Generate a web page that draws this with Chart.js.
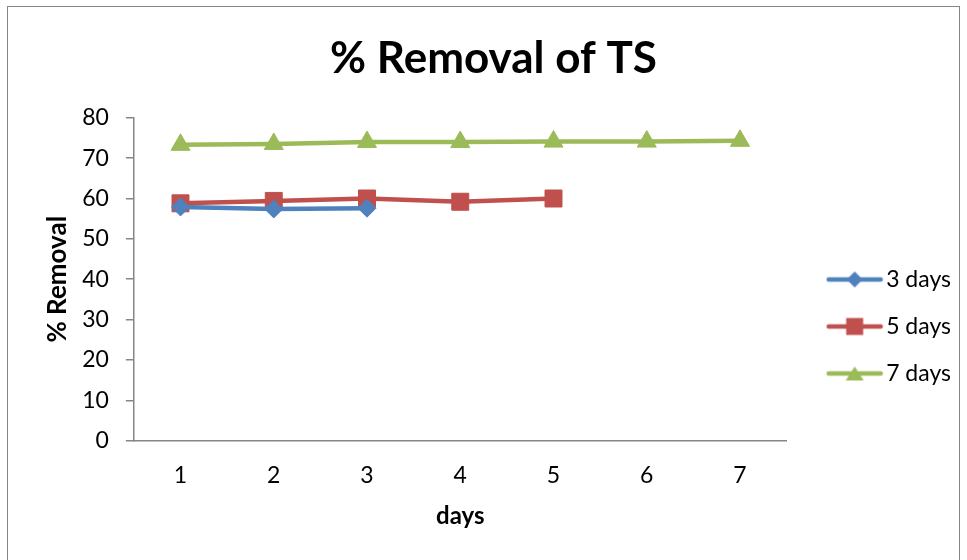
<!DOCTYPE html>
<html><head><meta charset="utf-8">
<script src="https://cdn.jsdelivr.net/npm/chart.js@4"></script>
<style>
html,body{margin:0;padding:0;background:#fff;}
#frame{position:absolute;left:7px;top:6px;width:953px;height:600px;border:1px solid #868686;box-sizing:border-box;}
#wrap{position:absolute;left:0;top:0;width:967px;height:560px;}
</style></head><body>
<div id="frame"></div>
<div id="wrap"><canvas id="c" width="967" height="560"></canvas></div>
<script>
const categories = ['1','2','3','4','5','6','7'];
const seriesNames = ['3 days','5 days','7 days'];
const days3 = [57.9, 57.4, 57.6, null, null, null, null];
const days5 = [58.8, 59.4, 60.0, 59.2, 60.0, null, null];
const days7 = [73.3, 73.5, 74.0, 74.0, 74.1, 74.1, 74.3];
const yTicks = [0,10,20,30,40,50,60,70,80];

const colors = ['#4F81BD','#C0504D','#9BBB59'];
const shapes = ['rectRot','rect','triangle'];
const radii = [9, 12, 11];

const FONT = 'Lato, "Open Sans", sans-serif';

function legendIcon(color, shape){
  const cv = document.createElement('canvas');
  cv.width = 58; cv.height = 24;
  const g = cv.getContext('2d');
  g.strokeStyle = color; g.lineWidth = 4.5; g.lineCap='round';
  g.beginPath(); g.moveTo(3,12); g.lineTo(55,12); g.stroke();
  g.fillStyle = color;
  g.beginPath();
  if(shape==='rectRot'){ g.moveTo(29,4); g.lineTo(37,12); g.lineTo(29,20); g.lineTo(21,12); g.closePath(); }
  else if(shape==='rect'){ g.rect(20.5,3.5,17,17); }
  else { g.moveTo(29,5); g.lineTo(38,19); g.lineTo(20,19); g.closePath(); }
  g.fill();
  return cv;
}
const icons = colors.map((c,i)=>legendIcon(c, shapes[i]));

const boxShift = {
  id:'boxShift',
  afterLayout(chart){
    const l = chart.legend;
    if(l){ const dx = 24, dy = 50; l.left += dx; l.right += dx; l.top += dy; l.bottom += dy; }
    const t = chart.titleBlock;
    if(t){ const tx = 8; t.left += tx; t.right += tx; }
  }
};

const data = [days3, days5, days7];
new Chart(document.getElementById('c'), {
  type:'line',
  data:{
    labels: categories,
    datasets: seriesNames.map((n,i)=>({
      label:n, data:data[i],
      borderColor:colors[i], backgroundColor:colors[i],
      borderWidth:4.5, pointStyle:shapes[i], pointRadius:radii[i], pointHoverRadius:radii[i],
      pointBackgroundColor:colors[i], pointBorderColor:colors[i], pointBorderWidth:1,
      tension:0, spanGaps:false
    }))
  },
  plugins:[boxShift],
  options:{
    responsive:false, animation:false, devicePixelRatio:1,
    layout:{padding:{left:34, right:30, top:22, bottom:29}},
    plugins:{
      title:{display:true, text:'% Removal of TS', color:'#000',
        font:{family:FONT, size:44, weight:'bold'}, padding:{top:10,bottom:33}},
      legend:{position:'right', align:'center',
        labels:{usePointStyle:true, pointStyleWidth:40, boxHeight:23, padding:24, color:'#000',
          font:{family:FONT, size:23},
          generateLabels:(chart)=>chart.data.datasets.map((d,i)=>({
            text:d.label, pointStyle:icons[i], fillStyle:colors[i], strokeStyle:colors[i],
            lineWidth:0, datasetIndex:i, hidden:false, fontColor:'#000'
          }))
        }},
      tooltip:{enabled:false}
    },
    scales:{
      x:{offset:true,
        grid:{display:false},
        border:{display:true, color:'#868686', width:1.5},
        ticks:{color:'#000', font:{family:FONT, size:23}, padding:13},
        title:{display:true, text:'days', color:'#000', font:{family:FONT, size:24, weight:'bold'}, padding:{top:0, bottom:0}}
      },
      y:{min:0, max:80,
        afterBuildTicks:(s)=>{ s.ticks = yTicks.map(v=>({value:v})); },
        grid:{drawOnChartArea:false, drawTicks:true, tickLength:8, color:'#868686', lineWidth:1.5},
        border:{display:true, color:'#868686', width:1.5},
        ticks:{color:'#000', font:{family:FONT, size:23}, padding:17},
        title:{display:true, text:'% Removal', color:'#000', font:{family:FONT, size:26, weight:'bold'}, padding:{top:8,bottom:-8}}
      }
    }
  }
});
</script>
</body></html>
